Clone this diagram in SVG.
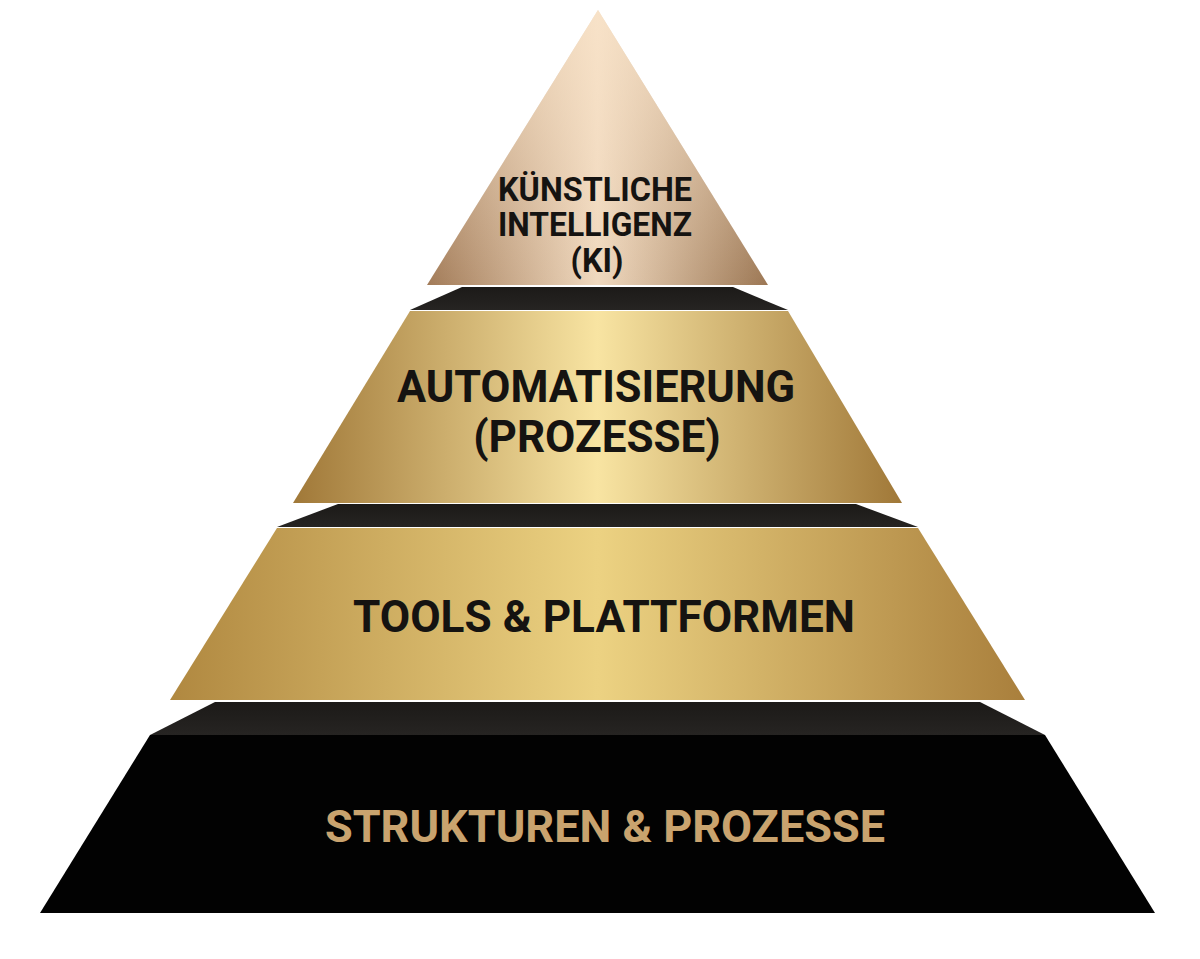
<svg xmlns="http://www.w3.org/2000/svg" width="1200" height="959" viewBox="0 0 1200 959">
<defs>
<linearGradient id="g1" x1="0" y1="0" x2="1" y2="0">
<stop offset="0" stop-color="#a27b58"/>
<stop offset="0.5" stop-color="#f0d9bf"/>
<stop offset="1" stop-color="#9c7754"/>
</linearGradient>
<linearGradient id="g1v" x1="0" y1="0" x2="0" y2="1">
<stop offset="0" stop-color="#fbe6cc" stop-opacity="0.7"/>
<stop offset="1" stop-color="#fbe6cc" stop-opacity="0"/>
</linearGradient>
<linearGradient id="g2" x1="0" y1="0" x2="1" y2="0">
<stop offset="0" stop-color="#a07838"/>
<stop offset="0.5" stop-color="#f8e4a2"/>
<stop offset="1" stop-color="#a07838"/>
</linearGradient>
<linearGradient id="g3" x1="0" y1="0" x2="1" y2="0">
<stop offset="0" stop-color="#b08840"/>
<stop offset="0.5" stop-color="#ecd282"/>
<stop offset="1" stop-color="#a97f3c"/>
</linearGradient>
<linearGradient id="gd" x1="0" y1="0" x2="0" y2="1">
<stop offset="0" stop-color="#1c1a18"/>
<stop offset="1" stop-color="#262422"/>
</linearGradient>
</defs>
<style>
.t{font-family:Roboto,"Liberation Sans",sans-serif;font-weight:700;text-anchor:middle;fill:#151311}
.t1{font-size:32.5px}
.t2{font-size:44px}
.gold{fill:#c9a36e}
.band{fill:url(#gd)}
</style>
<g id="tier-ki">
<polygon points="598,10 768,285 427,285" fill="url(#g1)"/>
<polygon points="598,10 768,285 427,285" fill="url(#g1v)"/>
<text class="t t1" x="595" y="201" textLength="194" lengthAdjust="spacingAndGlyphs">KÜNSTLICHE</text>
<text class="t t1" x="595" y="236" textLength="194" lengthAdjust="spacingAndGlyphs">INTELLIGENZ</text>
<text class="t t1" x="597" y="272">(KI)</text>
</g>
<g id="tier-automatisierung">
<polygon class="band" points="462,287 733,287 788,310 410,310"/>
<polygon points="410,311 788,311 902,503 293,503" fill="url(#g2)"/>
<text class="t t2" x="596" y="402" textLength="398" lengthAdjust="spacingAndGlyphs">AUTOMATISIERUNG</text>
<text class="t t2" x="597" y="452">(PROZESSE)</text>
</g>
<g id="tier-tools">
<polygon class="band" points="338,504 856,504 918,527 277,527"/>
<polygon points="277,528 918,528 1025,700 170,700" fill="url(#g3)"/>
<text class="t t2" x="604" y="632" textLength="502" lengthAdjust="spacingAndGlyphs">TOOLS &amp; PLATTFORMEN</text>
</g>
<g id="tier-strukturen">
<polygon class="band" points="215,702 980,702 1045,735 150,735"/>
<polygon points="150,735 1045,735 1155,913 40,913" fill="#020202"/>
<text class="t t2 gold" x="605" y="842" textLength="560" lengthAdjust="spacingAndGlyphs">STRUKTUREN &amp; PROZESSE</text>
</g>
<g id="connectors"/>
</svg>
